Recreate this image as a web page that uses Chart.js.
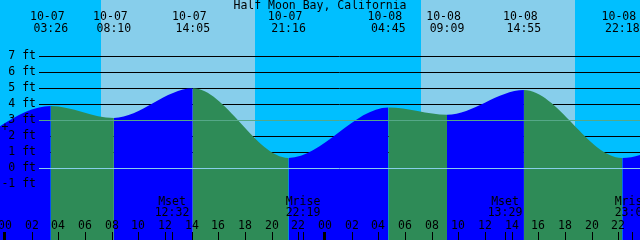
<!DOCTYPE html>
<html>
<head>
<meta charset="utf-8">
<script src="https://cdn.jsdelivr.net/npm/chart.js@4"></script>
<style>
  body { margin: 0; background: #fff; }
  canvas { display: block; }
</style>
</head>
<body>
<canvas id="tide" width="640" height="240"></canvas>
<script>
// hours counted from 10-07 00:00
var eventHours = [-3.5, 3.433, 8.167, 14.083, 21.267, 28.75, 33.15, 38.917, 46.3, 53.5];
var eventFeet = [1.0, 3.9, 3.15, 5.0, 0.65, 3.8, 3.35, 4.9, 0.65, 3.7];
var eventDates = ['', '10-07', '10-07', '10-07', '10-07', '10-08', '10-08', '10-08', '10-08', ''];
var eventTimes = ['', '03:26', '08:10', '14:05', '21:16', '04:45', '09:09', '14:55', '22:18', ''];

var sunrise = [7.2, 31.2];
var sunset = [18.75, 42.75];

var moonHours = [12.533, 22.317, 37.483, 47.03];
var moonNames = ['Mset', 'Mrise', 'Mset', 'Mrise'];
var moonTimes = ['12:32', '22:19', '13:29', '23:02'];

var feetTicks = [7, 6, 5, 4, 3, 2, 1, 0, -1];
var hourTicks = [0, 2, 4, 6, 8, 10, 12, 14, 16, 18, 20, 22, 24, 26, 28, 30, 32, 34, 36, 38, 40, 42, 44, 46];
var hourLabels = ['00', '02', '04', '06', '08', '10', '12', '14', '16', '18', '20', '22',
                  '00', '02', '04', '06', '08', '10', '12', '14', '16', '18', '20', '22'];
var nowHour = 0, nowFeet = 2.5;

var title = 'Half Moon Bay, California';
var FONT = '11.5px "DejaVu Sans Mono"';

var tidePlugin = {
    id: 'tide',
    beforeDatasetsDraw: function (chart) {
        var c = chart.ctx, xs = chart.scales.x, ys = chart.scales.y;
        c.save();
        c.fillStyle = '#00BFFF';
        c.fillRect(0, 0, chart.width, chart.height);
        c.fillStyle = '#87CEEB';
        for (var i = 0; i < sunrise.length; i++) {
            var a = xs.getPixelForValue(sunrise[i]), b = xs.getPixelForValue(sunset[i]);
            c.fillRect(a, 0, b - a, chart.height);
        }
        c.strokeStyle = '#000';
        c.lineWidth = 1;
        feetTicks.forEach(function (f) {
            if (f <= 0 || f == 3) return;
            var y = Math.round(ys.getPixelForValue(f)) + 0.5;
            c.beginPath(); c.moveTo(39, y); c.lineTo(chart.width, y); c.stroke();
        });
        c.restore();
    },
    afterDatasetsDraw: function (chart) {
        var c = chart.ctx, xs = chart.scales.x, ys = chart.scales.y;
        c.save();
        c.lineWidth = 1;
        var y3 = Math.round(ys.getPixelForValue(3)) + 0.5;
        c.strokeStyle = '#55a888';
        c.beginPath(); c.moveTo(39, y3); c.lineTo(chart.width, y3); c.stroke();
        var y0 = Math.round(ys.getPixelForValue(0)) + 0.5;
        c.strokeStyle = '#87CEEB';
        c.beginPath(); c.moveTo(39, y0); c.lineTo(chart.width, y0); c.stroke();

        c.font = FONT;
        c.fillStyle = '#000';
        c.textBaseline = 'middle';

        // depth labels
        c.textAlign = 'right';
        feetTicks.forEach(function (f) {
            c.fillText(f + ' ft', 36, ys.getPixelForValue(f));
        });

        // current time marker
        c.textAlign = 'center';
        c.fillText('+', xs.getPixelForValue(nowHour), ys.getPixelForValue(nowFeet));

        // hour ticks
        hourTicks.forEach(function (h, i) {
            var x = Math.round(xs.getPixelForValue(h));
            c.fillText(hourLabels[i], x, 226);
            c.fillRect(h % 24 == 0 ? x - 2 : x, 232, h % 24 == 0 ? 3 : 1, 8);
        });

        // moon events
        moonHours.forEach(function (h, i) {
            var x = Math.round(xs.getPixelForValue(h));
            c.fillText(moonNames[i], x, 202);
            c.fillText(moonTimes[i], x, 213);
            c.fillRect(x, 232, 1, 8);
        });

        // title and tide events
        c.fillText(title, chart.width / 2, 6);
        eventHours.forEach(function (h, i) {
            if (!eventTimes[i]) return;
            var x = xs.getPixelForValue(h);
            c.fillText(eventDates[i] + ' ', x, 17);
            c.fillText(eventTimes[i], x, 29);
        });
        c.restore();
    }
};

var points = eventHours.map(function (h, i) { return { x: h, y: eventFeet[i] }; });

new Chart(document.getElementById('tide').getContext('2d'), {
    type: 'line',
    data: {
        datasets: [{
            label: 'Tide',
            data: points,
            fill: 'start',
            borderWidth: 0,
            pointRadius: 0,
            cubicInterpolationMode: 'monotone',
            backgroundColor: '#0000FF',
            segment: {
                backgroundColor: function (ctx) {
                    return ctx.p1.parsed.y > ctx.p0.parsed.y ? '#0000FF' : '#2E8B57';
                }
            }
        }]
    },
    options: {
        responsive: false,
        animation: false,
        layout: { padding: 0 },
        plugins: { legend: { display: false }, tooltip: { enabled: false } },
        scales: {
            x: { type: 'linear', display: false, min: -0.375, max: 47.625 },
            y: { display: false, min: -4.48, max: 10.52 }
        }
    },
    plugins: [tidePlugin]
});
</script>
</body>
</html>
